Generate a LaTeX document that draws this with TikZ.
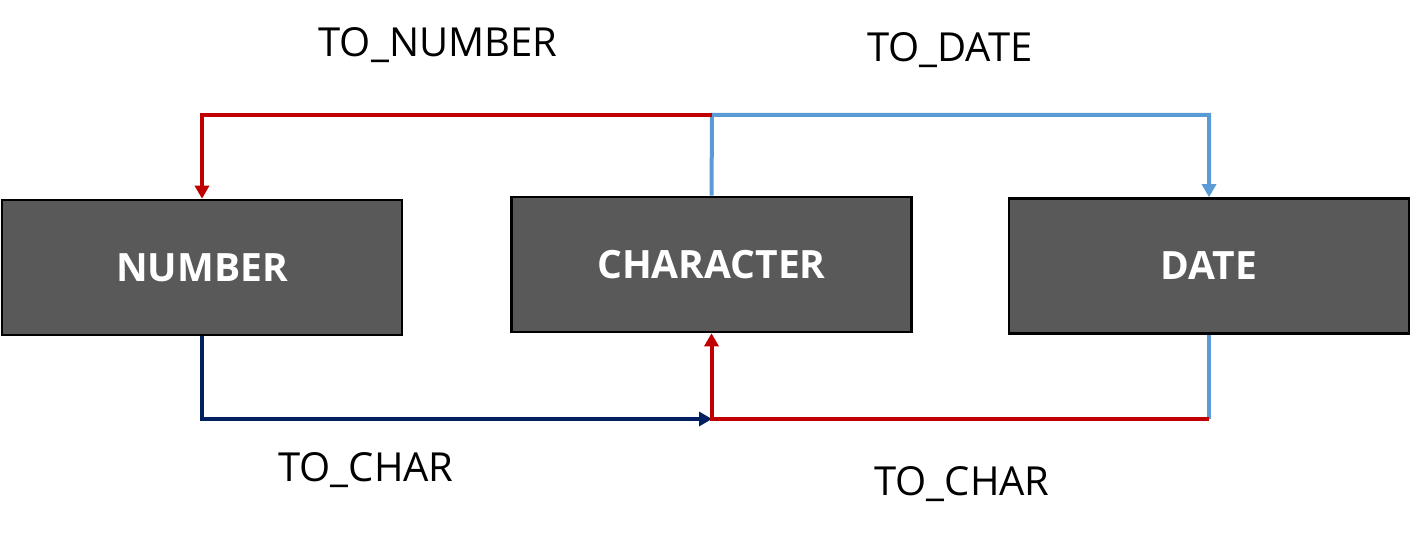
\documentclass[tikz,border=0pt]{standalone}
\usepackage{fontspec}
\setmainfont{Open Sans}
\usetikzlibrary{positioning}
\usetikzlibrary{arrows.meta}
\definecolor{boxgray}{HTML}{595959}
\definecolor{convred}{HTML}{C00000}
\definecolor{convblue}{HTML}{5B9BD5}
\definecolor{convnavy}{HTML}{002060}
\tikzset{
	every node/.style={align=center},
	typebox/.style={draw=black,line width=1.3pt,fill=boxgray,minimum width=200pt,minimum height=67.5pt,text=white,font=\bfseries\fontsize{19.5}{23}\selectfont},
	convlabel/.style={font=\fontsize{20}{24}\selectfont},
	conv/.style={line width=2pt},
	tip/.style={-{Triangle[width=7pt,length=6.5pt]}},
}

\begin{document}
\begin{tikzpicture}[x=0.5pt,y=-0.5pt]
	\useasboundingbox (0,0) rectangle (1411,534);

	% type boxes.....................
	\node [typebox] (number) at (202,267.5) {NUMBER};
	\node [typebox] (character) at (711.5,264.5) {CHARACTER};
	\node [typebox] (date) at (1209,266) {DATE};

	% bend points......................
	\coordinate (top) at (712,115);
	\coordinate (bottom) at (712,419);

	% TO_DATE...................
	\draw [conv,convblue,tip] (character.north) -- (top) -| (date.north);

	% TO_NUMBER...................
	\draw [conv,convred,tip] (top) -| (number.north);

	% TO_CHAR from NUMBER...................
	\draw [conv,convnavy,tip] (number.south) |- (bottom);

	% TO_CHAR from DATE...................
	\draw [conv,convblue] (date.south) -- (date.south |- bottom);
	\draw [conv,convred,tip] (date.south |- bottom) -| (character.south);

	% labels......................
	\node [convlabel] (tonumber) at (438,45) {TO\_NUMBER};
	\node [convlabel] (todate) at (950,50) {TO\_DATE};
	\node [convlabel] (tocharleft) at (366,470) {TO\_CHAR};
	\node [convlabel] (tocharright) at (962,484) {TO\_CHAR};

\end{tikzpicture}
\end{document}
